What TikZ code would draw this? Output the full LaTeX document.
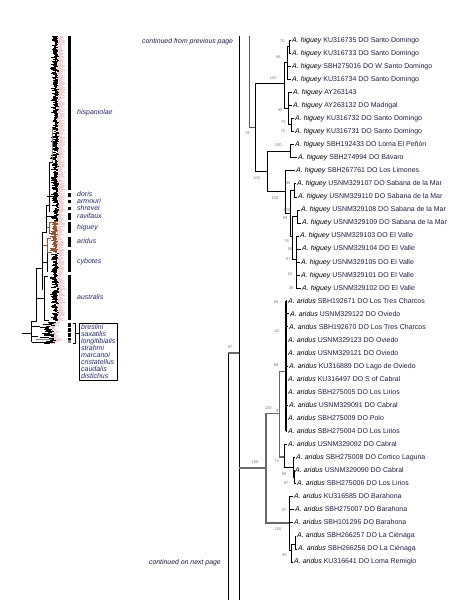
\documentclass[tikz,border=0pt]{standalone}
\usepackage{fontspec}
\setmainfont{Liberation Sans}
\definecolor{lab}{RGB}{30,30,70}
\definecolor{clade}{RGB}{35,45,110}
\definecolor{supp}{RGB}{120,120,120}
\definecolor{brn}{RGB}{150,85,55}
\definecolor{pinkish}{RGB}{240,208,208}
\definecolor{gline}{RGB}{105,105,105}
\tikzset{
  leaf/.style={anchor=base west, inner sep=0pt, font=\fontsize{7}{7}\selectfont, text=lab},
  supl/.style={inner sep=0pt, font=\fontsize{4}{4}\selectfont, text=supp},
  br/.style={line width=0.8pt, black},
  gbr/.style={line width=1.2pt, gline},
  cl/.style={anchor=base west, inner sep=0pt, font=\fontsize{7}{7}\selectfont\itshape, text=clade},
  cont/.style={anchor=base east, inner sep=0pt, font=\fontsize{6.9}{7}\selectfont\itshape, text=lab},
  cbar/.style={fill=black, draw=none},
  obox/.style={draw=black, line width=0.5pt, anchor=north west, align=left, inner xsep=2.2pt, inner ysep=1.2pt, font=\fontsize{7}{7}\selectfont\itshape, text=clade},
}
\newcommand\tk[1]{([xshift=-1.2pt]#1.west)}
\begin{document}
\begin{tikzpicture}[x=1pt,y=-1pt]
\useasboundingbox (0,0) rectangle (467,602);
\fill[white] (0,0) rectangle (467,602);

% ================= left overview tree =================
\pgfmathsetseed{11}
\foreach \i in {0,...,230}{
  \pgfmathsetmacro\yy{36+\i*0.8}
  \pgfmathsetmacro\xt{56.3+2.7*rnd}
  \pgfmathsetmacro\xb{\xt-1.5-5*rnd}
  \pgfmathsetmacro\xp{2.5+4.5*rnd}
  \draw[pinkish, line width=0.5pt] (\xt+0.7,\yy) -- ++(\xp,0);
  \draw[line width=0.4pt] (\xb,\yy) -- (\xt,\yy);
}
\foreach \i in {0,...,39}{
  \pgfmathsetmacro\yy{221+\i*0.8}
  \pgfmathsetmacro\xt{55.5+3*rnd}
  \pgfmathsetmacro\xb{\xt-2-5*rnd}
  \pgfmathsetmacro\xp{2.5+4*rnd}
  \draw[pinkish, line width=0.5pt] (\xt+0.7,\yy) -- ++(\xp,0);
  \draw[brn, line width=0.45pt] (\xb,\yy) -- (\xt,\yy);
}
\foreach \i in {0,...,84}{
  \pgfmathsetmacro\yy{253+\i*0.8}
  \pgfmathsetmacro\xt{56+3*rnd}
  \pgfmathsetmacro\xb{\xt-1.5-5*rnd}
  \pgfmathsetmacro\xp{2.5+4.5*rnd}
  \draw[pinkish, line width=0.5pt] (\xt+0.7,\yy) -- ++(\xp,0);
  \draw[line width=0.4pt] (\xb,\yy) -- (\xt,\yy);
}
\foreach \i in {0,...,26}{
  \pgfmathsetmacro\yy{322+\i*0.8}
  \pgfmathsetmacro\xt{48+8*rnd}
  \pgfmathsetmacro\xb{\xt-3-7*rnd}
  \pgfmathsetmacro\xp{2+4*rnd}
  \draw[pinkish, line width=0.5pt] (\xt+0.7,\yy) -- ++(\xp,0);
  \draw[line width=0.45pt] (\xb,\yy) -- (\xt,\yy);
}
% backbone of the overview tree
\draw[line width=0.5pt] (55,36) -- (55,128) -- (52.5,128);
\draw[gray, line width=1.6pt] (52.5,128) -- (52.5,163);
\draw[line width=0.5pt] (52.5,162) -- (49,162) -- (49,212) (49,205) -- (46.7,205) -- (46.7,232) -- (42.7,232) -- (42.7,290) (42.7,268) -- (36,268) -- (36,321) -- (31.7,321) -- (31.7,342);
\draw[line width=0.5pt] (21.7,333) -- (31.7,333);
\draw[line width=0.5pt] (46.7,196) -- (53,196) (46.7,216) -- (52,216);
\draw[brn, line width=0.5pt] (46.7,227) -- (49,227) -- (49,222) -- (52,222) (49,227) -- (49,233) -- (51,233);
\draw[brn, line width=0.5pt] (42.7,245) -- (47,245) -- (47,238) -- (51,238) (47,245) -- (47,252) -- (52,252);
\draw[line width=0.5pt] (42.7,262) -- (47,262) -- (47,253) (47,262) -- (47,272);
\draw[line width=0.5pt] (36,298) -- (44,298) -- (44,276) -- (48,276) (44,298) -- (44,320) -- (49,320);
\draw[line width=0.5pt] (31.7,326) -- (40,326) (31.7,336) -- (38,336) (31.7,342) -- (55,342);
\draw[gray, line width=0.8pt] (36,339) -- (52,339);

% clade bars
\fill[cbar] (68,36) rectangle (71,190);
\fill[cbar] (68,193) rectangle (71,197);
\fill[cbar] (68,200) rectangle (71,203);
\fill[cbar] (68,207) rectangle (71,210);
\fill[cbar] (68,213) rectangle (71,220);
\fill[cbar] (68,222) rectangle (71,233);
\fill[cbar] (68,237) rectangle (71,247);
\fill[cbar] (68,250) rectangle (71,272);
\fill[cbar] (68,275) rectangle (71,320);
\fill[cbar] (68,323.3) rectangle (71,327.3);
\fill[cbar] (68,328.3) rectangle (71,331.7);
\fill[cbar] (68,333.3) rectangle (71,336.7);
\fill[cbar] (68,337.5) rectangle (71,339.5);
\fill[gray] (68,340.2) rectangle (71,342.8);

% clade labels
\node[cl] (lhisp) at (77,114.6) {hispaniolae};
\node[cl] (ldoris) at (77,196.5) {doris};
\node[cl] (larm) at (77,203.8) {armouri};
\node[cl] (lshr) at (77,210.4) {shrevei};
\node[cl] (lrav) at (77,218.3) {ravifaux};
\node[cl] (lhig) at (77,229.8) {higuey};
\node[cl] (larid) at (77,243.8) {aridus};
\node[cl] (lcyb) at (77,263) {cybotes};
\node[cl] (laus) at (77,299.6) {australis};
\node[obox] (outg) at (78.7,323.3) {breslini\\saxatilis\\longitibialis\\strahmi\\marcanoi\\cristatellus\\caudalis\\distichus};
\coordinate (bkt) at (75,323);
\coordinate (bkb) at (75,343);
\coordinate (bkm) at (75,333);
\draw[line width=0.5pt] (72.5,323) -- (bkt) -- (bkb) -- (72.5,343);
\draw[line width=0.5pt] (bkm) -- (bkm -| outg.west);

% ================= detailed tree =================
\node[cont] (cfrom) at (233.3,43.3) {continued from previous page};
\node[cont] (cnext) at (221,564) {continued on next page};

% leaves
\node[leaf] (L1) at (292,42.3) {\textit{\color{black}A. higuey} KU316735 DO Santo Domingo};
\node[leaf] (L2) at (292,55.3) {\textit{\color{black}A. higuey} KU316733 DO Santo Domingo};
\node[leaf] (L3) at (292,68.4) {\textit{\color{black}A. higuey} SBH275016 DO W Santo Domingo};
\node[leaf] (L4) at (292,81.4) {\textit{\color{black}A. higuey} KU316734 DO Santo Domingo};
\node[leaf] (L5) at (293,94.5) {\textit{\color{black}A. higuey} AY263143};
\node[leaf] (L6) at (293,107.5) {\textit{\color{black}A. higuey} AY263132 DO Madrigal};
\node[leaf] (L7) at (295,120.5) {\textit{\color{black}A. higuey} KU316732 DO Santo Domingo};
\node[leaf] (L8) at (295,133.6) {\textit{\color{black}A. higuey} KU316731 DO Santo Domingo};
\node[leaf] (L9) at (295,146.6) {\textit{\color{black}A. higuey} SBH192433 DO Loma El Peñón};
\node[leaf] (L10) at (298,159.7) {\textit{\color{black}A. higuey} SBH274994 DO Bávaro};
\node[leaf] (L11) at (296,172.7) {\textit{\color{black}A. higuey} SBH267761 DO Los Limones};
\node[leaf] (L12) at (297,185.7) {\textit{\color{black}A. higuey} USNM329107 DO Sabana de la Mar};
\node[leaf] (L13) at (298,198.8) {\textit{\color{black}A. higuey} USNM329110 DO Sabana de la Mar};
\node[leaf] (L14) at (301,211.8) {\textit{\color{black}A. higuey} USNM329108 DO Sabana de la Mar};
\node[leaf] (L15) at (302,224.9) {\textit{\color{black}A. higuey} USNM329109 DO Sabana de la Mar};
\node[leaf] (L16) at (300,237.9) {\textit{\color{black}A. higuey} USNM329103 DO El Valle};
\node[leaf] (L17) at (302,250.9) {\textit{\color{black}A. higuey} USNM329104 DO El Valle};
\node[leaf] (L18) at (301,264.0) {\textit{\color{black}A. higuey} USNM329105 DO El Valle};
\node[leaf] (L19) at (301,277.0) {\textit{\color{black}A. higuey} USNM329101 DO El Valle};
\node[leaf] (L20) at (302,290.1) {\textit{\color{black}A. higuey} USNM329102 DO El Valle};
\node[leaf] (L21) at (288,303.1) {\textit{\color{black}A. aridus} SBH192671 DO Los Tres Charcos};
\node[leaf] (L22) at (290,316.1) {\textit{\color{black}A. aridus} USNM329122 DO Oviedo};
\node[leaf] (L23) at (289,329.2) {\textit{\color{black}A. aridus} SBH192670 DO Los Tres Charcos};
\node[leaf] (L24) at (288,342.2) {\textit{\color{black}A. aridus} USNM329123 DO Oviedo};
\node[leaf] (L25) at (288,355.3) {\textit{\color{black}A. aridus} USNM329121 DO Oviedo};
\node[leaf] (L26) at (289,368.3) {\textit{\color{black}A. aridus} KU316889 DO Lago de Oviedo};
\node[leaf] (L27) at (288,381.3) {\textit{\color{black}A. aridus} KU316497 DO S of Cabral};
\node[leaf] (L28) at (288,394.4) {\textit{\color{black}A. aridus} SBH275005 DO Los Lirios};
\node[leaf] (L29) at (289,407.4) {\textit{\color{black}A. aridus} USNM329091 DO Cabral};
\node[leaf] (L30) at (288,420.5) {\textit{\color{black}A. aridus} SBH275009 DO Polo};
\node[leaf] (L31) at (288,433.5) {\textit{\color{black}A. aridus} SBH275004 DO Los Lirios};
\node[leaf] (L32) at (288,446.5) {\textit{\color{black}A. aridus} USNM329092 DO Cabral};
\node[leaf] (L33) at (296,459.6) {\textit{\color{black}A. aridus} SBH275008 DO Cortico Laguna};
\node[leaf] (L34) at (295,472.6) {\textit{\color{black}A. aridus} USNM329090 DO Cabral};
\node[leaf] (L35) at (297,485.7) {\textit{\color{black}A. aridus} SBH275006 DO Los Lirios};
\node[leaf] (L36) at (294,498.7) {\textit{\color{black}A. aridus} KU316585 DO Barahona};
\node[leaf] (L37) at (295,511.7) {\textit{\color{black}A. aridus} SBH275007 DO Barahona};
\node[leaf] (L38) at (294,524.8) {\textit{\color{black}A. aridus} SBH101296 DO Barahona};
\node[leaf] (L39) at (297,537.8) {\textit{\color{black}A. aridus} SBH266257 DO La Ciénaga};
\node[leaf] (L40) at (298,550.9) {\textit{\color{black}A. aridus} SBH266256 DO La Ciénaga};
\node[leaf] (L41) at (294,563.9) {\textit{\color{black}A. aridus} KU316641 DO Loma Remigio};

% internal nodes: higuey
\coordinate (Btop) at (249,36);
\coordinate (Hroot) at (255.5,127);
\coordinate (H1) at (284,83);
\coordinate (H1a) at (287,62.8);
\coordinate (n75) at (289.5,46.5);
\coordinate (H1b) at (288.5,108.5);
\coordinate (n73) at (291.5,124.8);
\coordinate (H2) at (267,171);
\coordinate (P9) at (290,150.9);
\coordinate (H3) at (285,191.5);
\coordinate (H4) at (290,213);
\coordinate (P12) at (294,190);
\coordinate (H5) at (292,236);
\coordinate (P14) at (297.5,216);
\coordinate (H6) at (296,259);

\draw[line width=0.9pt, gray!70!black] (Btop) |- (Hroot);
\draw[br] (Hroot) |- (H1) (Hroot) |- (H2);
\draw[br] (H1) |- (H1a) (H1) |- (H1b);
\draw[br] (H1a) |- (n75) (n75) |- \tk{L1} (n75) |- \tk{L2} (H1a) |- \tk{L3} (H1a) |- \tk{L4};
\draw[br] (H1b) |- \tk{L5} (H1b) |- \tk{L6} (H1b) |- (n73) (n73) |- \tk{L7} (n73) |- \tk{L8};
\draw[br] (H2) |- (P9) (P9) |- \tk{L9} (P9) |- \tk{L10};
\draw[br] (H2) |- (H3) (H3) |- \tk{L11} (H3) |- (H4);
\draw[br] (H4) |- (P12) (P12) |- \tk{L12} (P12) |- \tk{L13};
\draw[br] (H4) |- (H5) (H5) |- (P14) (P14) |- \tk{L14} (P14) |- \tk{L15};
\draw[br] (H5) |- (H6);
\foreach \k in {16,...,20} \draw[br] (H6) |- \tk{L\k};

% internal nodes: aridus and backbone
\coordinate (Atop) at (239,36);
\coordinate (Abot) at (239,600);
\coordinate (Ctop) at (228,353);
\coordinate (Cbot) at (228,600);
\coordinate (Aj) at (239,353);
\coordinate (Aj2) at (239,468);
\coordinate (Aroot) at (266,468);
\coordinate (A1) at (279.3,413.3);
\coordinate (A2) at (289,523);
\coordinate (A1a) at (286,371.7);
\coordinate (A1b) at (284,457);
\coordinate (N99) at (293.3,467);
\coordinate (N97) at (294.8,477);
\coordinate (N99b) at (291.5,550);
\coordinate (P39) at (295,544);

\draw[br] (Atop) -- (Abot);
\draw[br] (Ctop) -- (Cbot);
\draw[line width=2.2pt, gline] (Ctop) -- (Aj);
\draw[gbr] (Aj2) -- (Aroot);
\draw[gbr] (Aroot) |- (A1) (Aroot) |- (A2);
\draw[gbr] (A1) |- (A1a) (A1) |- (A1b);
\foreach \k in {21,...,31} \draw[br] (A1a) |- \tk{L\k};
\draw[line width=1.6pt] (A1a |- L21.west) -- (A1a |- L31.west);
\draw[br] (A1b) |- \tk{L32} (A1b) |- (N99) (N99) |- \tk{L33} (N99) |- (N97) (N97) |- \tk{L34} (N97) |- \tk{L35};
\draw[br] (A2) |- \tk{L36} (A2) |- \tk{L37} (A2) |- \tk{L38} (A2) |- (N99b);
\draw[br] (N99b) |- (P39) (P39) |- \tk{L39} (P39) |- \tk{L40} (N99b) |- \tk{L41};

% support values
\node[supl] (s1) at (282,40.7) {75};
\node[supl] (s2) at (278.3,57.3) {98};
\node[supl] (s3) at (273.3,77.7) {100};
\node[supl] (s4) at (280,110) {99};
\node[supl] (s5) at (283,122) {73};
\node[supl] (s6) at (283,130.7) {75};
\node[supl] (s7) at (247.3,133.3) {78};
\node[supl] (s8) at (278.3,145) {100};
\node[supl] (s9) at (256.7,177.7) {100};
\node[supl] (s10) at (288.3,183.3) {98};
\node[supl] (s11) at (275,198.3) {100};
\node[supl] (s12) at (286.7,210) {100};
\node[supl] (s13) at (285,218.3) {99};
\node[supl] (s14) at (286.7,240.7) {78};
\node[supl] (s15) at (290,249) {58};
\node[supl] (s16) at (288.3,259) {67};
\node[supl] (s17) at (290,274.3) {52};
\node[supl] (s18) at (291,287.7) {39};
\node[supl] (s19) at (230,347) {97};
\node[supl] (s20) at (255,462) {100};
\node[supl] (s21) at (268.3,408.3) {100};
\node[supl] (s22) at (278.3,411) {97};
\node[supl] (s23) at (276,302.3) {68};
\node[supl] (s24) at (277.3,330.7) {62};
\node[supl] (s25) at (276,365) {68};
\node[supl] (s26) at (276.7,461) {74};
\node[supl] (s27) at (284,474) {99};
\node[supl] (s28) at (286,483) {97};
\node[supl] (s29) at (278,529) {100};
\node[supl] (s30) at (284,510) {97};
\node[supl] (s31) at (284.3,555) {99};
\end{tikzpicture}
\end{document}
